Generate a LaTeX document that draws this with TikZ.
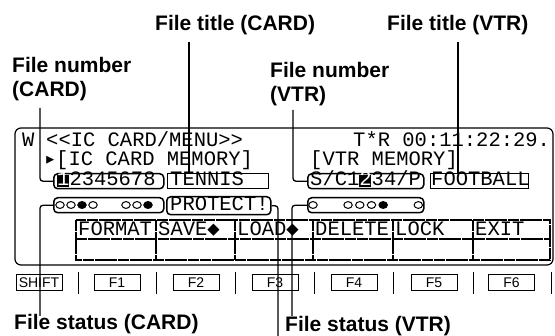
\documentclass[tikz,border=0pt]{standalone}
\usepackage{fontspec}
\usepackage{tikz}
\usetikzlibrary{positioning,calc}
\newfontfamily\lblfont{Liberation Sans}
\newfontfamily\lcdfont{Liberation Mono}
\newfontfamily\symfont{DejaVu Sans Mono}

\begin{document}
\begin{tikzpicture}[x=1pt,y=-1pt,
    lbl/.style={font=\lblfont\bfseries\fontsize{21}{24}\selectfont, inner sep=0pt, align=left},
    lcd/.style={font=\lcdfont\fontsize{20.5}{20.5}\selectfont, inner sep=0pt, anchor=base west},
    leader/.style={black, line width=1.3pt, rounded corners=3pt},
    rbox/.style={draw, line width=1.5pt, rounded corners=4pt, inner sep=0pt, anchor=north west},
    sbox/.style={draw, line width=1.3pt, inner sep=0pt, anchor=north west},
    fkey/.style={draw, line width=0.7pt, minimum width=46pt, minimum height=16pt, inner sep=0pt, font=\lblfont\fontsize{14}{14}\selectfont},
    lcdline/.style={line width=1.2pt, dash pattern=on 11pt off 0.7pt}]
  \useasboundingbox (0,0) rectangle (555,336);

  \node[lbl, anchor=base west] (lblCardTitle) at (155,31) {File title (CARD)};
  \node[lbl, anchor=base west] (lblVtrTitle) at (387,31) {File title (VTR)};
  \node[lbl, anchor=north west] (lblCardNum) at (12,57) {File number\\(CARD)};
  \node[lbl, anchor=north west] (lblVtrNum) at (270,62) {File number\\(VTR)};
  \node[lbl, anchor=base west] (lblCardStat) at (14,330) {File status (CARD)};
  \node[lbl, anchor=base west] (lblVtrStat) at (285,331.5) {File status (VTR)};

  \draw[line width=1.2pt, rounded corners=6pt] (15,128) rectangle (553,265);

  \node[lcd] (wmark) at (22,147) {W};
  \node[lcd] (menuhead) at (46,147) {<\kern0pt<IC CARD/MENU>\kern0pt>};
  \node[lcd] (timecode) at (353,147) {T*R 00:11:22:29.};
  \node[lcd, font=\symfont\fontsize{20.5}{20.5}\selectfont] (pointer) at (44,165.5) {▸};
  \node[lcd] (cardmem) at (56,165.5) {[IC CARD MEMORY]};
  \node[lcd] (vtrmem) at (310,165.5) {[VTR MEMORY]};

  \node[rbox, minimum width=110pt, minimum height=15pt] (cardnum) at (53,173) {};
  \fill (57,175) rectangle (68.5,187);
  \node[lcd, text=white] (cardcur) at (57,186) {1};
  \node[lcd] (cardnumtxt) at (69.3,186) {2345678};
  \node[sbox, minimum width=101pt, minimum height=15pt] (cardtitle) at (167,173) {};
  \node[lcd] (cardtitletxt) at (170,186) {TENNIS};

  \node[rbox, minimum width=116pt, minimum height=15pt] (vtrnum) at (307,173) {};
  \node[lcd] (vtrnumA) at (310,186) {S/C1};
  \fill (359.2,175) rectangle (371.3,187);
  \node[lcd, text=white] (vtrcur) at (359.2,186) {2};
  \node[lcd] (vtrnumB) at (371.5,186) {34/P};
  \node[sbox, minimum width=98pt, minimum height=15pt] (vtrtitle) at (430,173) {};
  \node[lcd] (vtrtitletxt) at (431,186) {FOOTBALL};

  \node[rbox, minimum width=110pt, minimum height=15pt] (cardstat) at (53,197) {};
  \foreach \i/\c in {0/white,1/white,2/black,3/white,6/white,7/white,8/black}
    \filldraw[fill=\c, line width=1pt] (60+11*\i,205) ellipse (4.2pt and 3.4pt);
  \node[rbox, minimum width=104pt, minimum height=18pt] (protect) at (166,196) {};
  \node[lcd] (protecttxt) at (170,211) {PROTECT!};
  \node[rbox, minimum width=116pt, minimum height=15pt] (vtrstat) at (307,197) {};
  \foreach \i/\c in {0/white,3/white,4/white,5/white,6/black,9/white}
    \filldraw[fill=\c, line width=1pt] (313+11.7*\i,205) ellipse (4.2pt and 3.4pt);

  \draw[lcdline] (76,220) rectangle (550,260);
  \draw[lcdline] (76,239) -- (550,239);
  \foreach \x in {156,235,313,393,473}
    \draw[lcdline] (\x,220) -- (\x,260);
  \node[lcd] (skFormat) at (78,236) {FORMAT};
  \node[lcd] (skSave) at (158,236) {SAVE{\symfont◆}};
  \node[lcd] (skLoad) at (237,236) {LOAD{\symfont◆}};
  \node[lcd] (skDelete) at (315,236) {DELETE};
  \node[lcd] (skLock) at (395,236) {LOCK};
  \node[lcd] (skExit) at (475,236) {EXIT};

  \node[fkey] (kShift) at (39,282.5) {SHIFT};
  \foreach \x/\k in {117/F1,196/F2,275/F3,354/F4,434/F5,511.5/F6}
    \node[fkey] (k\k) at (\x,282.5) {\k};
  \foreach \x in {78,156,235,314,393,473,551}
    \draw[line width=0.8pt] (\x,272) -- (\x,294);

  \coordinate (cnTop) at (40,108);
  \coordinate (ctTop) at (189,42);
  \coordinate (vnTop) at (293,110);
  \coordinate (vtTop) at (458,42);
  \coordinate (csBot) at (40,316);
  \coordinate (prBot) at (278,336);
  \coordinate (vsBot) at (292,316);
  \draw[leader] (cnTop) |- (cardnum.west);
  \draw[leader] (ctTop) -- (ctTop |- cardtitle.north);
  \draw[leader] (vnTop) |- (vtrnum.west);
  \draw[leader] (vtTop) -- (vtTop |- vtrtitle.north);
  \draw[leader] (cardstat.west) -| (csBot);
  \draw[leader] (protect.east) -| (prBot);
  \draw[leader] (vtrstat.west) -| (vsBot);
\end{tikzpicture}
\end{document}
